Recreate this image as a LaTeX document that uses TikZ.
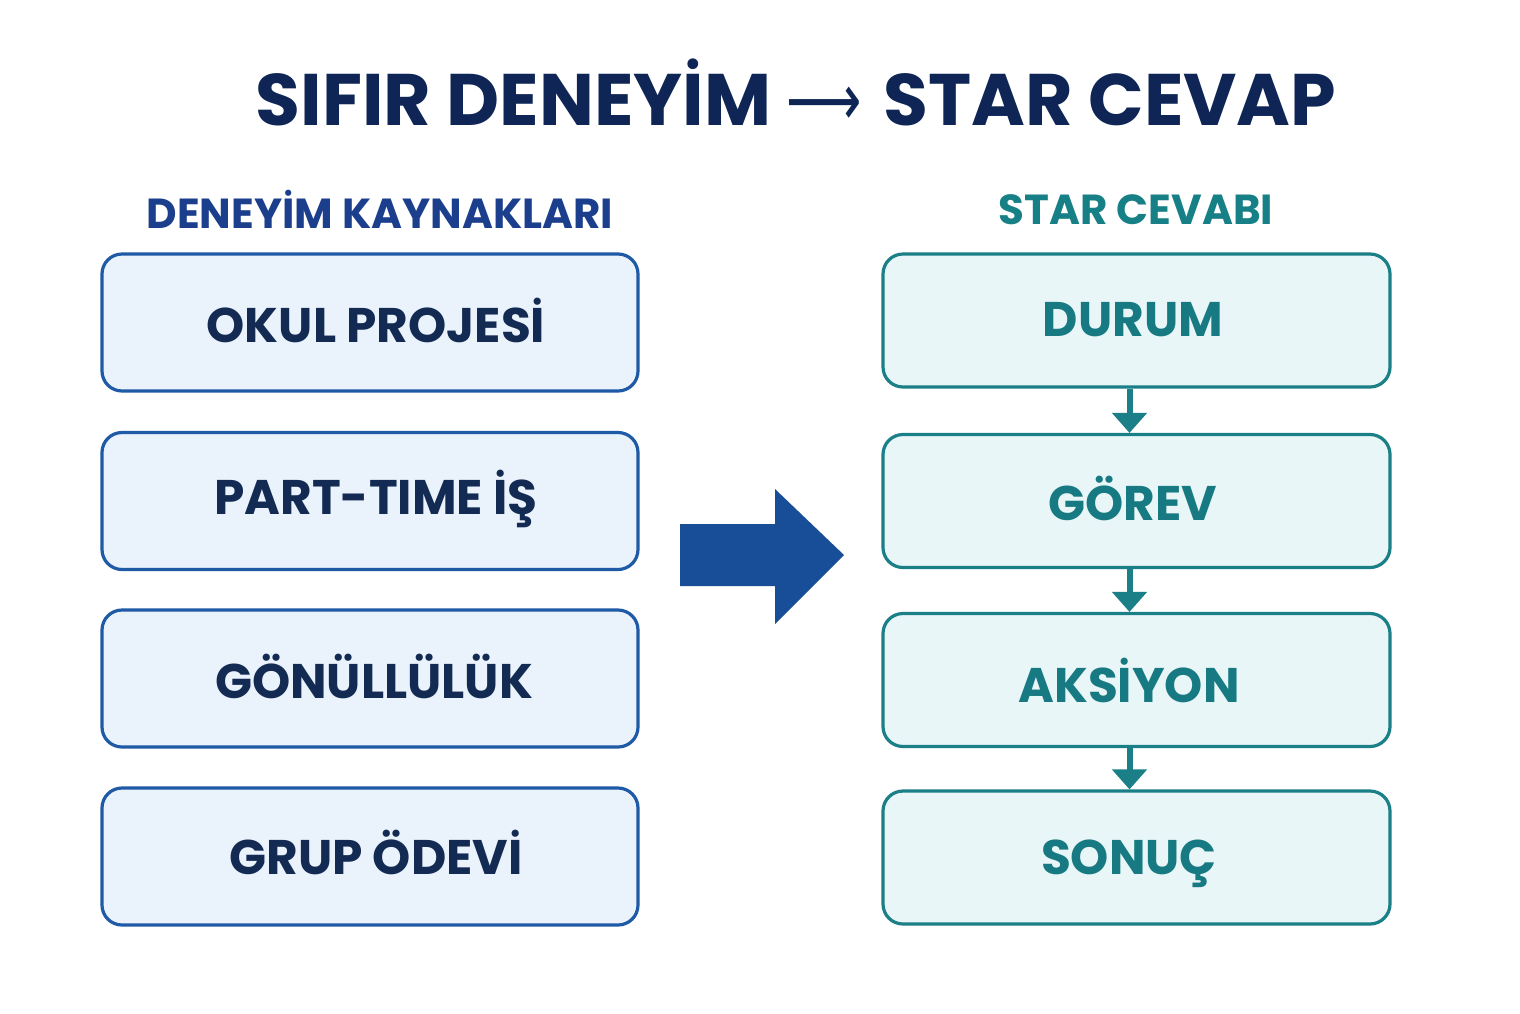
\documentclass[tikz,border=0pt]{standalone}
\usepackage{fontspec}
\setmainfont{Poppins}
\newfontfamily\arrowfont{DejaVu Sans}
\usetikzlibrary{arrows.meta}
\definecolor{titlec}{HTML}{0E2555}
\definecolor{lhead}{HTML}{1B3F8C}
\definecolor{ltext}{HTML}{132A52}
\definecolor{lborder}{HTML}{1F5AA6}
\definecolor{lfill}{HTML}{EAF2FC}
\definecolor{rhead}{HTML}{177F86}
\definecolor{rtext}{HTML}{177A82}
\definecolor{rborder}{HTML}{1A7F86}
\definecolor{rfill}{HTML}{E8F6F8}
\definecolor{bigarrow}{HTML}{184E97}
\begin{document}
\begin{tikzpicture}[x=0.5pt,y=-0.5pt,
  boxbase/.style={line width=1.6pt,rounded corners=10pt},
  lbox/.style={boxbase,draw=lborder,fill=lfill,
    minimum width=268pt,minimum height=68.5pt},
  rbox/.style={boxbase,draw=rborder,fill=rfill,
    minimum width=253.5pt,minimum height=66.5pt},
  ltxt/.style={text=ltext,font=\fontsize{24.3}{28}\selectfont\bfseries},
  rtxt/.style={text=rtext,font=\fontsize{24.3}{28}\selectfont\bfseries},
  flow/.style={draw=rborder,line width=3pt,-{Triangle[width=17pt,length=10pt]}}
]
\useasboundingbox (0,0) rectangle (1520,1013);
\fill[white] (0,0) rectangle (1520,1013);
\node[text=titlec,font=\fontsize{36.5}{42}\selectfont\bfseries] (title) at (796,92)
  {SIFIR DENEYİM {\arrowfont\mdseries\scalebox{0.72}[1]{⟶}}\hspace{3pt} STAR CEVAP};
\node[text=lhead,font=\fontsize{21}{24}\selectfont\bfseries] (lh) at (380,209) {DENEYİM KAYNAKLARI};
\node[text=rhead,font=\fontsize{21}{24}\selectfont\bfseries] (rh) at (1136,210) {STAR CEVABI};

\node[lbox] (l1) at (370,322.5) {};
\node[lbox] (l2) at (370,501) {};
\node[lbox] (l3) at (370,678.5) {};
\node[lbox] (l4) at (370,856.5) {};
\node[ltxt] (t1) at (376,320) {OKUL PROJESİ};
\node[ltxt] (t2) at (376,499) {PART-TIME İŞ};
\node[ltxt] (t3) at (374,676) {GÖNÜLLÜLÜK};
\node[ltxt] (t4) at (376,852) {GRUP ÖDEVİ};

\node[rbox] (r1) at (1136.5,320.5) {};
\node[rbox] (r2) at (1136.5,501) {};
\node[rbox] (r3) at (1136.5,680) {};
\node[rbox] (r4) at (1136.5,857.5) {};
\node[rtxt] (s1) at (1133,320) {DURUM};
\node[rtxt] (s2) at (1133,498) {GÖREV};
\node[rtxt] (s3) at (1129,680) {AKSİYON};
\node[rtxt] (s4) at (1129,864) {SONUÇ};

\draw[flow] ([xshift=-3.5pt]r1.south) -- ([xshift=-3.5pt]r2.north);
\draw[flow] ([xshift=-3.5pt]r2.south) -- ([xshift=-3.5pt]r3.north);
\draw[flow] ([xshift=-3.5pt]r3.south) -- ([xshift=-3.5pt]r4.north);

\fill[bigarrow] (680,524) -- (775,524) -- (775,489) -- (844,555) -- (775,624) -- (775,586) -- (680,586) -- cycle;
\end{tikzpicture}
\end{document}
